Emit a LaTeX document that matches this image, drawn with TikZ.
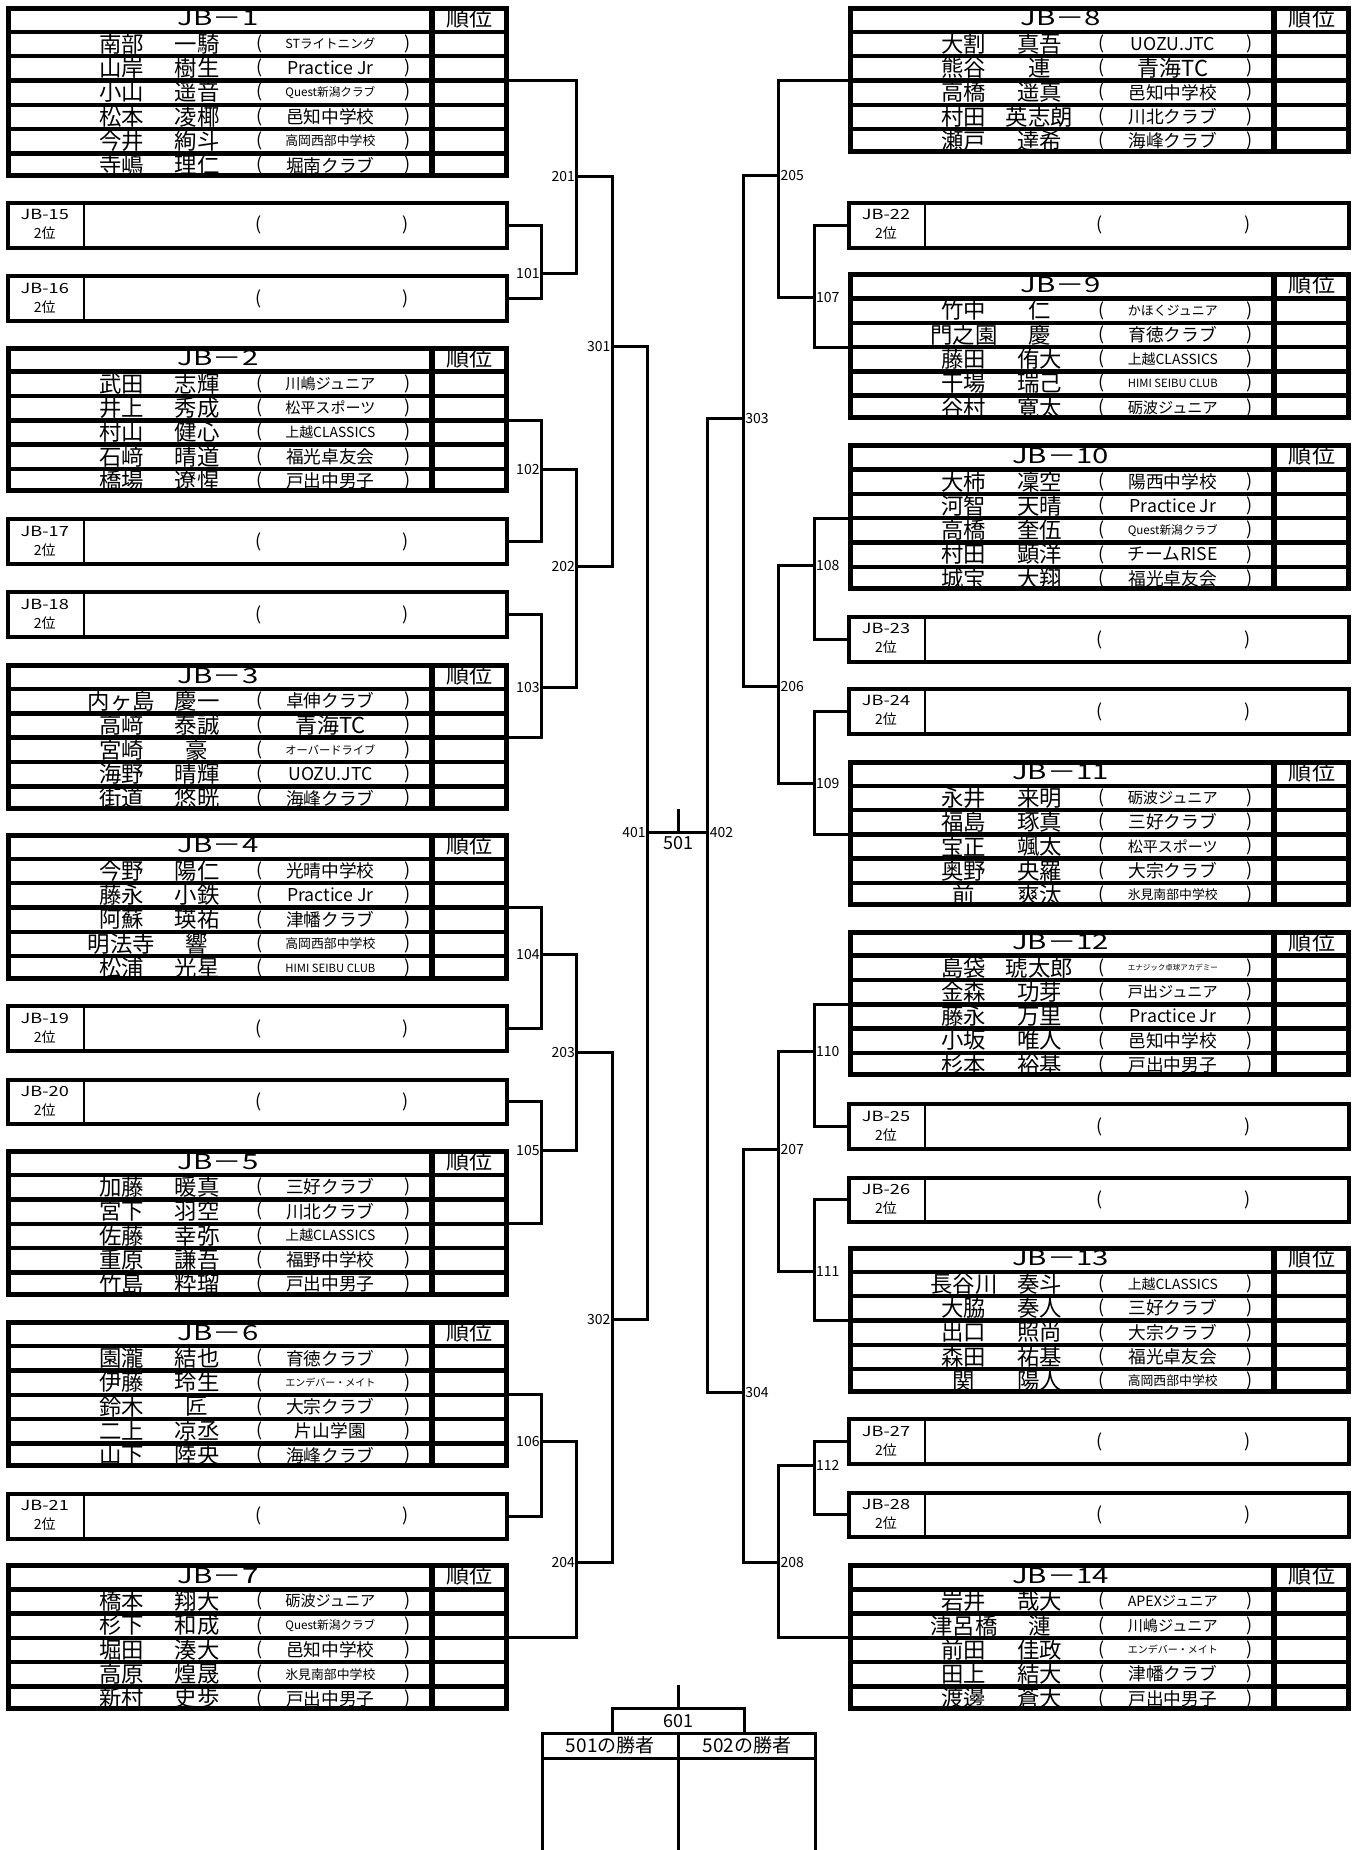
\documentclass[tikz,border=0pt]{standalone}
\usepackage{fontspec}
\usepackage{graphicx}
\setmainfont{Noto Sans CJK JP}
\usetikzlibrary{positioning}

% text sizes
\newcommand\namesize{\fontsize{22.4pt}{24pt}\selectfont}
\newcommand\clubsize{\fontsize{17.7pt}{19pt}\selectfont}
\newcommand\club[1]{{\clubsize\sbox0{#1}\ifdim\wd0>90pt\resizebox{90pt}{!}{#1}\else\usebox0\fi}}
\newcommand\bigclub[1]{\fontsize{22pt}{24pt}\selectfont #1}

% group with header and player rows: id, left, top, rows, players
\newcommand\jbgroup[5]{%
  \begin{scope}[shift={(#2,#3)}]
    \pgfmathsetmacro\gbot{22+#4*20.6}
    \pgfmathtruncatemacro\glast{#4-1}
    \node[hdr] (jb#1t) at (180,10.5) {\scalebox{1.4}[1]{JB－#1}};
    \node[hdr] (jb#1r) at (393,10.5) {\scalebox{1.1}[1]{順位}};
    \foreach \sur/\giv/\clb [count=\i] in {#5}{
      \pgfmathsetmacro\ry{21.8+(\i-0.5)*20.6}
      \node[nm] (jb#1s\i) at (98,\ry) {\sur};
      \node[nm] (jb#1g\i) at (162,\ry) {\giv};
      \node[pr] (jb#1o\i) at (215,\ry) {(};
      \node (jb#1c\i) at (275,\ry) {\club{\clb}};
      \node[pr] (jb#1e\i) at (340,\ry) {)};
    }
    \foreach \k in {0,...,\glast}
      \draw[rowline] (0,22+\k*20.6) -- (426,22+\k*20.6);
    \draw[rankline] (361,0) -- (361,\gbot);
    \draw[frame] (2,2) rectangle (424,\gbot-2);
  \end{scope}}

% runner-up slot: id, left, top
\newcommand\jbsingle[3]{%
  \begin{scope}[shift={(#2,#3)}]
    \node[tag] (jb#1) at (33,20.5) {\scalebox{1.3}[1]{JB-#1}\\2位};
    \node[pr] (jb#1o) at (214,21) {(};
    \node[pr] (jb#1e) at (339,21) {)};
    \draw[sdiv] (66,2) -- (66,40);
    \draw[sframe] (2,2) rectangle (425,40);
  \end{scope}}

\begin{document}
\begin{tikzpicture}[
    x=1.17984pt, y=-1.17984pt,
    every node/.style={inner sep=0pt, outer sep=0pt},
    nm/.style={font=\namesize},
    pr/.style={font=\fontsize{18pt}{20pt}\selectfont},
    hdr/.style={font=\fontsize{21pt}{22pt}\selectfont},
    tag/.style={font=\fontsize{14pt}{19pt}\selectfont, align=center},
    num/.style={font=\fontsize{14pt}{15pt}\selectfont},
    fin/.style={font=\fontsize{18pt}{19pt}\selectfont},
    link/.style={line width=3pt},
    frame/.style={line width=5pt},
    rowline/.style={line width=4.5pt},
    rankline/.style={line width=6pt},
    sframe/.style={line width=4pt},
    sdiv/.style={line width=1.5pt},
    cell/.style={draw, line width=3pt, minimum height=24.8pt,
        font=\fontsize{19pt}{20pt}\selectfont}
]
    \useasboundingbox (0,0) rectangle (1151,1568);

    % left groups
    \jbgroup{1}{5}{5}{6}{南部/一騎/STライトニング, 山岸/樹生/Practice Jr,
        小山/遥音/Quest新潟クラブ, 松本/凌椰/邑知中学校,
        今井/絢斗/高岡西部中学校, 寺嶋/理仁/堀南クラブ}
    \jbgroup{2}{5}{293}{5}{武田/志輝/川嶋ジュニア, 井上/秀成/松平スポーツ,
        村山/健心/上越CLASSICS, 石﨑/晴道/福光卓友会, 橋場/遼惺/戸出中男子}
    \jbgroup{3}{5}{562}{5}{内ヶ島/慶一/卓伸クラブ, 高﨑/泰誠/\bigclub{青海TC},
        宮崎/豪/オーバードライブ, 海野/晴輝/UOZU.JTC, 街道/悠晄/海峰クラブ}
    \jbgroup{4}{5}{706}{5}{今野/陽仁/光晴中学校, 藤永/小鉄/Practice Jr,
        阿蘇/瑛祐/津幡クラブ, 明法寺/響/高岡西部中学校, 松浦/光星/HIMI SEIBU CLUB}
    \jbgroup{5}{5}{974}{5}{加藤/暖真/三好クラブ, 宮下/羽空/川北クラブ,
        佐藤/幸弥/上越CLASSICS, 重原/謙吾/福野中学校, 竹島/粋瑠/戸出中男子}
    \jbgroup{6}{5}{1119}{5}{園瀧/結也/育徳クラブ, 伊藤/玲生/エンデバー・メイト,
        鈴木/匠/大宗クラブ, 二上/凉丞/片山学園, 山下/陸央/海峰クラブ}
    \jbgroup{7}{5}{1325}{5}{橋本/翔大/砺波ジュニア, 杉下/和成/Quest新潟クラブ,
        堀田/湊大/邑知中学校, 高原/煌晟/氷見南部中学校, 新村/史歩/戸出中男子}

    % right groups
    \jbgroup{8}{719}{5}{5}{大割/真吾/UOZU.JTC, 熊谷/連/\bigclub{青海TC},
        高橋/遥真/邑知中学校, 村田/英志朗/川北クラブ, 瀬戸/達希/海峰クラブ}
    \jbgroup{9}{719}{231}{5}{竹中/仁/かほくジュニア, 門之園/慶/育徳クラブ,
        藤田/侑大/上越CLASSICS, 干場/瑞己/HIMI SEIBU CLUB, 谷村/寛太/砺波ジュニア}
    \jbgroup{10}{719}{376}{5}{大柿/凜空/陽西中学校, 河智/天晴/Practice Jr,
        高橋/奎伍/Quest新潟クラブ, 村田/顕洋/チームRISE, 城宝/大翔/福光卓友会}
    \jbgroup{11}{719}{644}{5}{永井/来明/砺波ジュニア, 福島/琢真/三好クラブ,
        宝正/颯太/松平スポーツ, 奥野/央羅/大宗クラブ, 前/爽汰/氷見南部中学校}
    \jbgroup{12}{719}{788}{5}{島袋/琥太郎/エナジック卓球アカデミー, 金森/功芽/戸出ジュニア,
        藤永/万里/Practice Jr, 小坂/唯人/邑知中学校, 杉本/裕基/戸出中男子}
    \jbgroup{13}{719}{1056}{5}{長谷川/奏斗/上越CLASSICS, 大脇/奏人/三好クラブ,
        出口/照尚/大宗クラブ, 森田/祐基/福光卓友会, 関/陽人/高岡西部中学校}
    \jbgroup{14}{719}{1325}{5}{岩井/哉大/APEXジュニア, 津呂橋/漣/川嶋ジュニア,
        前田/佳政/エンデバー・メイト, 田上/結大/津幡クラブ, 渡邊/蒼大/戸出中男子}

    % runner-up slots
    \foreach \g/\t in {15/170, 16/232, 17/438, 18/500, 19/851, 20/913, 21/1264}
        \jbsingle{\g}{5}{\t};
    \foreach \g/\t in {22/170, 23/521, 24/582, 25/934, 26/996, 27/1201, 28/1263}
        \jbsingle{\g}{718}{\t};

    % hook points
    \foreach \g/\t in {1/5, 2/293, 3/562, 4/706, 5/974, 6/1119, 7/1325}
        \coordinate (h\g) at (431,\t+63.2);
    \foreach \g/\t in {8/5, 9/231, 10/376, 11/644, 12/788, 13/1056, 14/1325}
        \coordinate (h\g) at (719,\t+63.2);
    \foreach \g/\t in {15/170, 16/232, 17/438, 18/500, 19/851, 20/913, 21/1264}
        \coordinate (h\g) at (431,\t+21);
    \foreach \g/\t in {22/170, 23/521, 24/582, 25/934, 26/996, 27/1201, 28/1263}
        \coordinate (h\g) at (719,\t+21);

    % match points
    \foreach \m/\x/\y in {101/459/232, 102/459/398, 103/459/583, 104/459/809,
        105/459/975, 106/459/1222, 201/489/150, 202/489/480, 203/489/892,
        204/489/1324, 301/519/294, 302/519/1118, 401/549/706,
        107/690/252, 108/690/479, 109/690/664, 110/690/891, 111/690/1078,
        112/690/1242, 205/660/149, 206/660/582, 207/660/974, 208/660/1324,
        303/630/355, 304/630/1180, 402/600/706, 501/575/706}
        \coordinate (m\m) at (\x,\y);

    % brackets
    \foreach \m/\a/\b in {101/h15/h16, 102/h2/h17, 103/h18/h3, 104/h4/h19,
        105/h20/h5, 106/h6/h21, 201/h1/m101, 202/m102/m103, 203/m104/m105,
        204/m106/h7, 301/m201/m202, 302/m203/m204, 401/m301/m302,
        107/h22/h9, 108/h10/h23, 109/h24/h11, 110/h12/h25, 111/h26/h13,
        112/h27/h28, 205/h8/m107, 206/m108/m109, 207/m110/m111, 208/m112/h14,
        303/m205/m206, 304/m207/m208, 402/m303/m304}
        \draw[link] (\a) -| (m\m) |- (\b);

    % match numbers
    \foreach \m in {101,102,103,104,105,106,201,202,203,204,301,302,401}
        \node[num, left=2pt of m\m] (l\m) {\m};
    \foreach \m in {107,108,109,110,111,112,205,206,207,208,303,304,402}
        \node[num, right=2pt of m\m] (l\m) {\m};

    % semi-final
    \coordinate (w501) at (575,686);
    \draw[link] (m401) -- (m402);
    \draw[link] (m501) -- (w501);
    \node[fin, below=3pt of m501] (l501) {501};

    % final
    \coordinate (w601) at (575,1428);
    \coordinate (base) at (0,1575);
    \node[cell, fin, minimum width=132pt] (f601) at (575,1458.5) {601};
    \node[cell, minimum width=136.3pt] (c501) at (517.25,1479.5) {501の勝者};
    \node[cell, minimum width=136.9pt] (c502) at (633,1479.5) {502の勝者};
    \draw[link] (w601) -- (f601.north);
    \draw[link] (c501.south west) -- (c501.south west |- base);
    \draw[link] (c501.south east) -- (c501.south east |- base);
    \draw[link] (c502.south east) -- (c502.south east |- base);

\end{tikzpicture}
\end{document}
